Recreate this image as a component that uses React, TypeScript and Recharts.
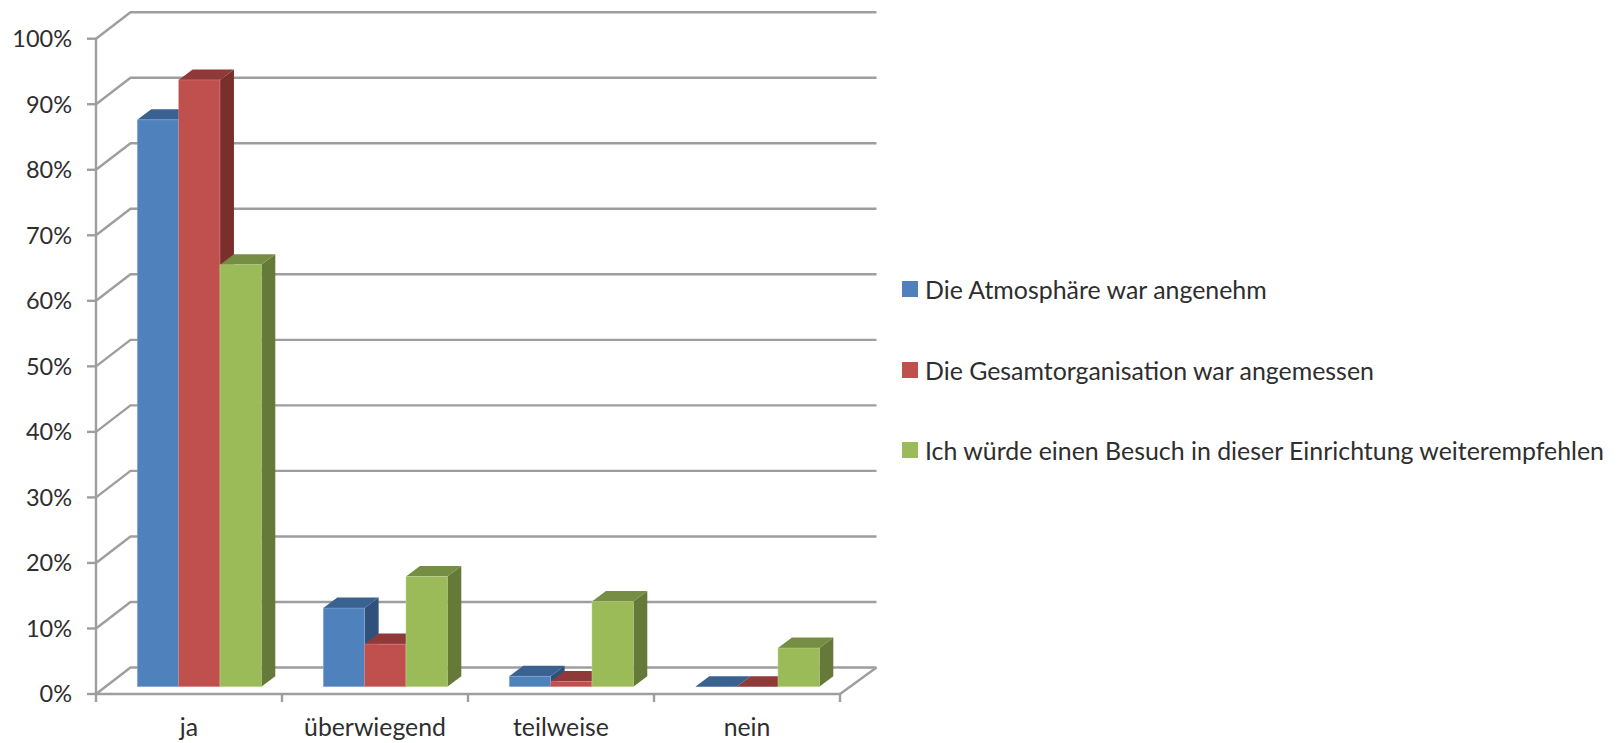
import React from "react";
import { ComposedChart, Bar, XAxis, YAxis, CartesianGrid, Legend } from "recharts";

const categories = ["ja", "überwiegend", "teilweise", "nein"];
const seriesNames = [
  "Die Atmosphäre war angenehm",
  "Die Gesamtorganisation war angemessen",
  "Ich würde einen Besuch in dieser Einrichtung weiterempfehlen",
];
const atmosphere = [86.5, 12, 1.6, 0];
const organisation = [92.6, 6.5, 0.8, 0];
const recommend = [64.4, 16.8, 13, 5.9];
const yTicks = [0, 10, 20, 30, 40, 50, 60, 70, 80, 90, 100];

const faceColors = ["#4F81BD", "#C0504D", "#9BBB59"];
const topColors = ["#3A6290", "#8F3A38", "#758E43"];
const sideColors = ["#30517A", "#7A2F2D", "#657A38"];
const edgeColors = ["#8FB0D8", "#DB9A98", "#C8DC9C"];

const data = categories.map((name, i) => ({
  name,
  a: atmosphere[i],
  b: organisation[i],
  c: recommend[i],
}));

const WIDTH = 1618;
const HEIGHT = 743;
const M_LEFT = 96;
const M_TOP = 38.7;
const M_RIGHT = WIDTH - 840;
const M_BOTTOM = HEIGHT - 694;
const BAND = (WIDTH - M_LEFT - M_RIGHT) / categories.length;
const WALL_DX = 34.5;
const WALL_DY = -26.5;
const FLOOR_DX = 10.3;
const FLOOR_DY = -7.3;
const BAR_DX = 14;
const BAR_DY = -10.5;
const LINE = "#9E9E9E";
const LINE_W = 2.4;
const FONT = "Lato, Carlito, sans-serif";
const TEXT = "#2E2E2E";
const AXIS_OFFSET = 8;

function shape3d(idx: number) {
  return (p: any) => {
    const x = p.x + FLOOR_DX;
    const y = p.y + FLOOR_DY;
    const w = p.width;
    const h = p.height;
    const b = y + h;
    return (
      <g>
        {h > 0 && (
          <polygon
            points={`${x + w},${y} ${x + w + BAR_DX},${y + BAR_DY} ${x + w + BAR_DX},${b + BAR_DY} ${x + w},${b}`}
            fill={sideColors[idx]}
          />
        )}
        <polygon
          points={`${x},${y} ${x + BAR_DX},${y + BAR_DY} ${x + w + BAR_DX},${y + BAR_DY} ${x + w},${y}`}
          fill={topColors[idx]}
        />
        {h > 0 && (
          <rect
            x={x}
            y={y}
            width={w}
            height={h}
            fill={faceColors[idx]}
            stroke={edgeColors[idx]}
            strokeWidth={0.7}
            strokeOpacity={0.6}
          />
        )}
      </g>
    );
  };
}

function gridLine(p: any) {
  const { x1, x2, y1, index } = p;
  const backY = y1 + WALL_DY;
  const isFloor = Math.abs(y1 - (HEIGHT - M_BOTTOM)) < 1;
  return (
    <g key={`g-${index}-${y1}`}>
      <polyline
        points={`${x1},${y1} ${x1 + WALL_DX},${backY} ${x2 + WALL_DX + 2},${backY}`}
        fill="none"
        stroke={LINE}
        strokeWidth={LINE_W}
      />
      {isFloor && (
        <line x1={x2} y1={y1} x2={x2 + WALL_DX + 2} y2={backY} stroke={LINE} strokeWidth={LINE_W} />
      )}
    </g>
  );
}

function XTick(p: any) {
  const { x, y, payload, index } = p;
  const y0 = y - AXIS_OFFSET;
  return (
    <g>
      {index === 0 && (
        <line x1={x - BAND / 2} y1={y0} x2={x - BAND / 2} y2={y0 + 8} stroke={LINE} strokeWidth={LINE_W} />
      )}
      <line x1={x + BAND / 2} y1={y0} x2={x + BAND / 2} y2={y0 + 8} stroke={LINE} strokeWidth={LINE_W} />
      <text x={x} y={y0 + 41.7} textAnchor="middle" fontFamily={FONT} fontSize={24.8} fill={TEXT}>
        {payload.value}
      </text>
    </g>
  );
}

function LegendBox() {
  return (
    <div style={{ fontFamily: FONT, fontSize: 24.9, color: TEXT }}>
      {seriesNames.map((name, i) => (
        <div
          key={name}
          style={{ height: 80.5, display: "flex", alignItems: "center", whiteSpace: "nowrap" }}
        >
          <span
            style={{
              display: "inline-block",
              width: 16,
              height: 16,
              background: faceColors[i],
              marginRight: 7,
              flex: "none",
            }}
          />
          <span>{name}</span>
        </div>
      ))}
    </div>
  );
}

export default function App() {
  return (
    <div style={{ position: "absolute", left: 0, top: 0, width: WIDTH, height: HEIGHT, background: "#fff" }}>
      <ComposedChart
        width={WIDTH}
        height={HEIGHT}
        data={data}
        margin={{ top: M_TOP, left: 0, right: M_RIGHT, bottom: 0 }}
        barCategoryGap={31}
        barGap={0}
      >
        <CartesianGrid horizontal={gridLine} vertical={false} stroke={LINE} />
        <XAxis
          dataKey="name"
          height={M_BOTTOM}
          axisLine={{ stroke: LINE, strokeWidth: LINE_W }}
          tickLine={false}
          tick={XTick}
          interval={0}
        />
        <YAxis
          width={M_LEFT}
          domain={[0, 100]}
          ticks={yTicks}
          interval={0}
          tickFormatter={(v: number) => `${v}%`}
          axisLine={{ stroke: LINE, strokeWidth: LINE_W }}
          tickLine={{ stroke: LINE, strokeWidth: LINE_W }}
          tickSize={9}
          tickMargin={15}
          tick={{ fontFamily: FONT, fontSize: 23.5, fill: TEXT }}
        />
        <Legend
          layout="horizontal"
          verticalAlign="middle"
          align="center"
          content={LegendBox}
          wrapperStyle={{ left: 902, top: 249, width: 716 }}
        />
        <Bar dataKey="a" name={seriesNames[0]} barSize={41.33} isAnimationActive={false} shape={shape3d(0)} />
        <Bar dataKey="b" name={seriesNames[1]} barSize={41.33} isAnimationActive={false} shape={shape3d(1)} />
        <Bar dataKey="c" name={seriesNames[2]} barSize={41.33} isAnimationActive={false} shape={shape3d(2)} />
      </ComposedChart>
    </div>
  );
}
